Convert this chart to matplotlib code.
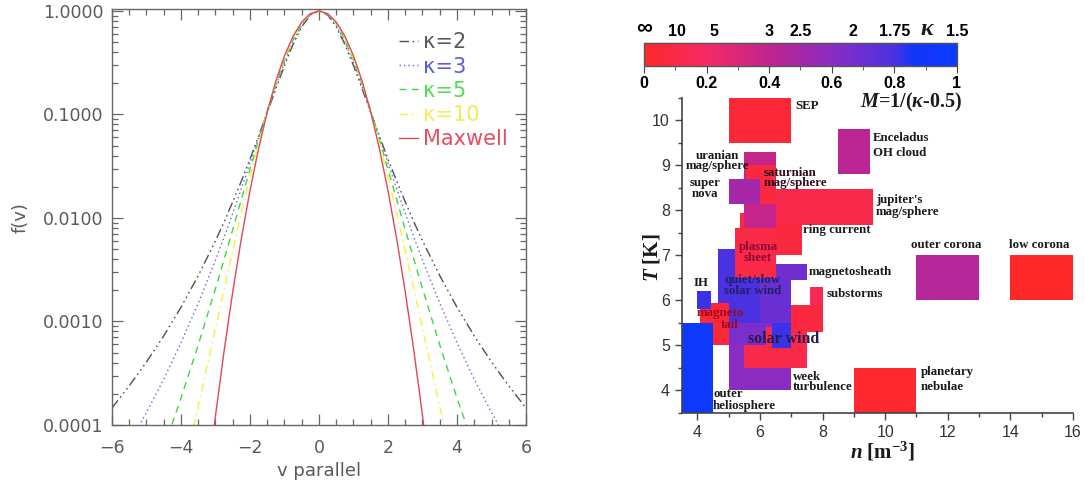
import numpy as np
import matplotlib
matplotlib.use("Agg")
import matplotlib.pyplot as plt
from matplotlib.colors import LinearSegmentedColormap, Normalize
from matplotlib.cm import ScalarMappable
from matplotlib.ticker import MultipleLocator, NullFormatter, LogLocator

plt.rcParams["mathtext.fontset"] = "custom"
plt.rcParams["mathtext.rm"] = "Liberation Serif:bold"
plt.rcParams["mathtext.bf"] = "Liberation Serif:bold"
plt.rcParams["mathtext.it"] = "Liberation Serif:italic:bold"

# ---- left panel: 1D distributions, f(v) for v >= 0 (curves are symmetric) ----
v_k2 = [0, 0.25, 0.5, 0.75, 1.0, 1.25, 1.5, 1.75, 2.0, 2.25, 2.5, 2.75, 3.0, 3.5, 4.0, 4.5, 5.0, 5.5, 6.0]
f_k2 = [1.0, 0.912, 0.702, 0.475, 0.296, 0.177, 0.104, 0.0617, 0.0370, 0.0227, 0.0143, 0.00915,
        0.00601, 0.00277, 0.00137, 7.26e-4, 4.06e-4, 2.39e-4, 1.46e-4]

v_k3 = [0, 0.25, 0.5, 0.75, 1.0, 1.25, 1.5, 1.75, 2.0, 2.25, 2.5, 2.75, 3.0, 3.5, 4.0, 4.5, 5.0, 5.5, 6.0]
f_k3 = [1.0, 0.921, 0.726, 0.503, 0.316, 0.187, 0.107, 0.0600, 0.0338, 0.0192, 0.0111, 0.00651,
        0.00391, 0.00150, 6.22e-4, 2.77e-4, 1.32e-4, 6.6e-5, 3.5e-5]

v_k5 = [0, 0.25, 0.5, 0.75, 1.0, 1.25, 1.5, 1.75, 2.0, 2.25, 2.5, 2.75, 3.0, 3.5, 4.0, 4.5]
f_k5 = [1.0, 0.928, 0.746, 0.528, 0.335, 0.196, 0.108, 0.0569, 0.0294, 0.0151, 0.00771, 0.00398,
        0.00208, 5.93e-4, 1.82e-4, 6.0e-5]

v_k10 = [0, 0.25, 0.5, 0.75, 1.0, 1.25, 1.5, 1.75, 2.0, 2.25, 2.5, 2.75, 3.0, 3.25, 3.5, 3.75]
f_k10 = [1.0, 0.934, 0.762, 0.548, 0.351, 0.203, 0.107, 0.0530, 0.0247, 0.0111, 0.00480, 0.00204,
         8.59e-4, 3.60e-4, 1.51e-4, 6.4e-5]

v_max = [0, 0.25, 0.5, 0.75, 1.0, 1.25, 1.5, 1.75, 2.0, 2.25, 2.5, 2.75, 3.0, 3.25]
f_max = [1.0, 0.939, 0.779, 0.570, 0.368, 0.210, 0.105, 0.0468, 0.0183, 0.00633, 0.00193, 5.2e-4,
         1.23e-4, 2.6e-5]

curve_labels = ["κ=2", "κ=3", "κ=5", "κ=10", "Maxwell"]

# ---- right panel: (n, T) ranges of space plasmas, coloured by M = 1/(kappa-0.5) ----
box_n0 = [5.0, 5.5, 5.0, 7.0, 7.6, 6.4, 4.65, 6.0, 6.5, 4.1, 4.0, 3.5, 5.35, 5.5, 5.55, 5.0, 6.5, 5.2,
          5.0, 8.5, 11.0, 14.0, 9.0]
box_n1 = [7.0, 7.5, 6.2, 8.0, 8.0, 7.0, 6.0, 7.0, 7.5, 5.0, 4.45, 4.5, 7.35, 6.5, 6.5, 6.0, 9.6, 6.5,
          7.0, 9.5, 13.0, 16.0, 11.0]
box_t0 = [4.0, 4.5, 5.0, 5.3, 5.9, 4.95, 5.5, 5.5, 6.45, 5.0, 5.8, 3.5, 7.0, 7.45, 8.15, 8.15, 7.67,
          6.5, 9.5, 8.8, 6.0, 6.0, 3.5]
box_t1 = [5.6, 5.4, 5.9, 5.9, 6.3, 5.5, 7.15, 6.6, 6.8, 5.95, 6.2, 5.5, 7.95, 9.3, 9.0, 8.7, 8.47,
          7.6, 10.5, 9.8, 7.0, 7.0, 4.5]
box_m = [0.60, 0.12, 0.65, 0.08, 0.15, 0.82, 0.80, 0.70, 0.68, 0.05, 0.82, 0.95, 0.08, 0.38, 0.08,
         0.50, 0.12, 0.10, 0.05, 0.42, 0.44, 0.0, 0.02]

kappa_ticks = [np.inf, 10, 5, 3, 2.5, 2, 1.75, 1.5]
kappa_tick_labels = ["∞", "10", "5", "3", "2.5", "2", "1.75", "1.5"]

DARK = "#1a1a1a"
# text, n, T, alignment, colour, size
region_labels = [
    ("SEP", 7.12, 10.32, "left", DARK, 9.3),
    ("Enceladus", 9.6, 9.6, "left", DARK, 9.3),
    ("OH cloud", 9.6, 9.28, "left", DARK, 9.3),
    ("uranian", 4.64, 9.21, "center", DARK, 9.3),
    ("mag/sphere", 4.64, 8.98, "center", DARK, 9.3),
    ("saturnian", 6.13, 8.83, "left", "#2e0c1e", 9.3),
    ("mag/sphere", 6.13, 8.6, "left", "#2e0c1e", 9.3),
    ("super", 4.25, 8.6, "center", DARK, 9.3),
    ("nova", 4.25, 8.36, "center", DARK, 9.3),
    ("jupiter's", 9.7, 8.23, "left", DARK, 9.3),
    ("mag/sphere", 9.7, 7.97, "left", DARK, 9.3),
    ("ring current", 7.38, 7.56, "left", DARK, 9.3),
    ("plasma", 5.94, 7.19, "center", "#8a0a3a", 9.3),
    ("sheet", 5.94, 6.94, "center", "#8a0a3a", 9.3),
    ("outer corona", 11.94, 7.22, "center", DARK, 9.3),
    ("low corona", 14.92, 7.22, "center", DARK, 9.3),
    ("magnetosheath", 7.55, 6.63, "left", DARK, 9.3),
    ("IH", 4.12, 6.38, "center", DARK, 9.3),
    ("quiet/slow", 5.76, 6.45, "center", "#20206a", 9.3),
    ("solar wind", 5.76, 6.21, "center", "#20206a", 9.3),
    ("substorms", 8.13, 6.15, "left", DARK, 9.3),
    ("magneto", 4.72, 5.72, "center", "#a00a1a", 9.3),
    ("tail", 5.04, 5.46, "center", "#a00a1a", 9.3),
    ("solar wind", 6.77, 5.15, "center", "#2a1a4a", 11.5),
    ("week", 7.06, 4.3, "left", DARK, 9.3),
    ("turbulence", 7.06, 4.08, "left", DARK, 9.3),
    ("planetary", 11.13, 4.41, "left", DARK, 9.3),
    ("nebulae", 11.13, 4.08, "left", DARK, 9.3),
    ("outer", 4.5, 3.92, "left", DARK, 9.3),
    ("heliosphere", 4.5, 3.66, "left", DARK, 9.3),
]

fig = plt.figure(figsize=(10.85, 4.84), dpi=100)

# ---------------- left panel ----------------
ax = fig.add_axes([0.1032, 0.1219, 0.3816, 0.8585])
styles = [
    ("#505050", (0, (7, 2.5, 1.2, 2.5, 1.2, 2.5, 1.2, 2.5)), "#5a5a5a"),
    ("#6464d2", (0, (1, 2.2)), "#5a5ad8"),
    ("#3cd83c", (0, (5, 4)), "#50dc50"),
    ("#f2f23c", (0, (6, 3, 1.2, 3)), "#eeee55"),
    ("#e04858", "-", "#e05060"),
]
series = [(v_k2, f_k2), (v_k3, f_k3), (v_k5, f_k5), (v_k10, f_k10), (v_max, f_max)]
for (v, f), (col, ls, _), lab in zip(series, styles, curve_labels):
    v = np.asarray(v, dtype=float)
    f = np.asarray(f, dtype=float)
    vv = np.concatenate([-v[:0:-1], v])
    ff = np.concatenate([f[:0:-1], f])
    ax.plot(vv, ff, color=col, ls=ls, lw=1.0, label=lab)

ax.set_yscale("log")
ax.set_xlim(-6, 6)
ax.set_ylim(1e-4, 1.03)
ax.set_xticks(range(-6, 7, 2))
ax.xaxis.set_minor_locator(MultipleLocator(0.5))
ax.set_yticks([1e-4, 1e-3, 1e-2, 1e-1, 1.0])
ax.set_yticklabels(["0.0001", "0.0010", "0.0100", "0.1000", "1.0000"])
ax.yaxis.set_minor_locator(LogLocator(subs=range(2, 10)))
ax.yaxis.set_minor_formatter(NullFormatter())
ax.tick_params(which="both", direction="in", top=True, right=True, color="#666666",
               labelcolor="#5a5a5a", labelsize=12.5, width=0.9)
ax.tick_params(which="major", length=8)
ax.tick_params(which="minor", length=4)
ax.tick_params(axis="x", pad=10)
ax.tick_params(axis="y", pad=6)
for s in ax.spines.values():
    s.set_color("#666666")
    s.set_linewidth(1.0)
ax.set_xlabel("v parallel", fontsize=13, color="#5a5a5a", labelpad=4)
ax.set_ylabel("f(v)", fontsize=13, color="#5a5a5a", labelpad=10)

ax.legend(loc="upper left", bbox_to_anchor=(0.694, 0.945), frameon=False,
          prop={"family": "DejaVu Sans", "size": 15}, handlelength=0.9, handletextpad=0.25,
          labelspacing=0.2, borderpad=0, borderaxespad=0,
          labelcolor=[s[2] for s in styles])

# ---------------- right panel ----------------
cmap = LinearSegmentedColormap.from_list("kappa", [
    (0.0, "#ff2828"), (0.2, "#f52a66"), (0.4, "#c0248e"), (0.6, "#8a2cc2"),
    (0.8, "#4a32e2"), (0.86, "#1434f8"), (1.0, "#0a3cff")])
norm = Normalize(0, 1)

ax2 = fig.add_axes([0.6283, 0.1473, 0.3606, 0.6502])
n0 = np.array(box_n0)
n1 = np.array(box_n1)
t0 = np.array(box_t0)
t1 = np.array(box_t1)
ax2.bar(n0, t1 - t0, width=n1 - n0, bottom=t0, align="edge",
        color=cmap(norm(np.array(box_m))), linewidth=0)
for txt, n, t, ha, col, size in region_labels:
    ax2.text(n, t, txt, ha=ha, va="center", color=col, fontsize=size,
             family="Liberation Serif", weight="bold")

ax2.set_xlim(3.5, 16)
ax2.set_ylim(3.5, 10.5)
ax2.set_xticks(range(4, 17, 2))
ax2.xaxis.set_minor_locator(MultipleLocator(1))
ax2.set_yticks(range(4, 11))
ax2.yaxis.set_minor_locator(MultipleLocator(0.5))
ax2.spines["top"].set_visible(False)
ax2.spines["right"].set_visible(False)
for s in ("left", "bottom"):
    ax2.spines[s].set_color("#444444")
    ax2.spines[s].set_linewidth(1.2)
ax2.tick_params(which="both", direction="out", color="#444444", labelcolor="#333333",
                labelsize=11.5, width=1.0)
ax2.tick_params(which="major", length=5)
ax2.tick_params(which="minor", length=3)
plt.setp(ax2.get_xticklabels() + ax2.get_yticklabels(), family="Liberation Sans")

fig.text(652 / 1085, 1 - 258 / 484, "$T$ [K]", rotation=90, ha="center", va="center",
         fontsize=15, family="Liberation Serif", weight="bold", color="#1a1a1a")
fig.text(882 / 1085, 1 - 452 / 484, "$n$ [m$^{-3}$]", ha="center", va="center",
         fontsize=15, family="Liberation Serif", weight="bold", color="#1a1a1a")

# colour bar with M on the bottom and kappa on top
cax = fig.add_axes([0.5935, 0.8636, 0.2885, 0.0481])
cb = fig.colorbar(ScalarMappable(norm=norm, cmap=cmap), cax=cax, orientation="horizontal")
cb.outline.set_edgecolor("#555555")
cb.outline.set_linewidth(1.0)
cb.set_ticks([0, 0.2, 0.4, 0.6, 0.8, 1.0])
cb.set_ticklabels(["0", "0.2", "0.4", "0.6", "0.8", "1"])
cax.xaxis.set_minor_locator(MultipleLocator(0.1))
cax.tick_params(which="both", direction="out", color="#444444", labelsize=11.5, pad=2)
cax.tick_params(which="major", length=5)
cax.tick_params(which="minor", length=3)
plt.setp(cax.get_xticklabels(), family="Liberation Sans", weight="bold")

m_ticks = [0.0 if np.isinf(k) else 1.0 / (k - 0.5) for k in kappa_ticks]
top = cax.secondary_xaxis("top")
top.set_xticks(m_ticks)
top.set_xticklabels(kappa_tick_labels)
top.tick_params(length=0, pad=3, labelsize=11.5)
plt.setp(top.get_xticklabels(), family=["Liberation Sans", "DejaVu Sans"], weight="bold")
top.get_xticklabels()[0].set_fontsize(16)

cax.text(0.905, 1.62, r"$\kappa$", transform=cax.transAxes, ha="center", va="center",
         fontsize=17, color="#1a1a1a")
fig.text(962 / 1085, 1 - 102 / 484, "$M$=1/($\\kappa$-0.5)", ha="right", va="center",
         fontsize=14.5, family="Liberation Serif", weight="bold", color="#1a1a1a")

fig.savefig("out.png", dpi=100)
